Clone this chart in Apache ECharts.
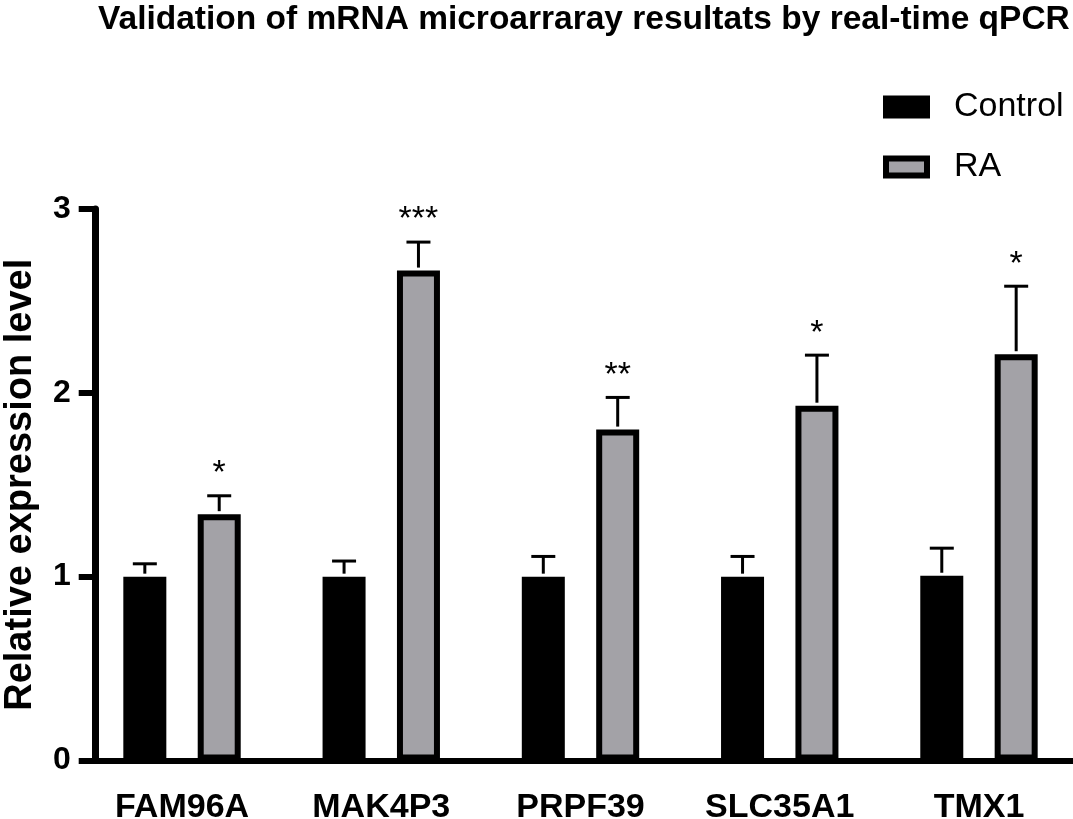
<!DOCTYPE html>
<html>
<head>
<meta charset="utf-8">
<script src="https://cdn.jsdelivr.net/npm/echarts@6/dist/echarts.min.js"></script>
<style>
  html, body { margin: 0; padding: 0; background: #fff; }
  #chart { width: 1073px; height: 819px; }
</style>
</head>
<body>
<div id="chart"></div>
<script>
// data
const categories = ['FAM96A', 'MAK4P3', 'PRPF39', 'SLC35A1', 'TMX1'];
const controlMean = [1.0, 1.0, 1.0, 1.0, 1.005];
const controlSem = [0.07, 0.085, 0.11, 0.11, 0.15];
const raMean = [1.34, 2.665, 1.80, 1.93, 2.21];
const raSem = [0.10, 0.155, 0.175, 0.275, 0.37];
const stars = ['*', '***', '**', '*', '*'];
const yTicks = [0, 1, 2, 3];

const FONT = '"Liberation Sans", Arial, sans-serif';
const GREY = '#a3a2a7';
const BAR_W = 43;
const BAR_GAP = 0.73;
// distance of each bar centre from the category centre
const half = BAR_W * (1 + BAR_GAP) / 2;

const chart = echarts.init(document.getElementById('chart'));

// error bars (upper only) + significance marks
function errorSeries(name, means, sems, side, marks) {
    return {
        name: name + '-err',
        type: 'custom',
        z: 5,
        silent: true,
        data: means.map((m, i) => [i, m, m + sems[i], marks ? marks[i] : '']),
        renderItem: (params, api) => {
            const base = api.coord([api.value(0), api.value(1)]);
            const top = api.coord([api.value(0), api.value(2)]);
            const x = base[0] + side * half;
            const capY = top[1];
            const children = [
                { type: 'line', shape: { x1: x, y1: base[1] - 3, x2: x, y2: capY },
                  style: { stroke: '#000', lineWidth: 3 } },
                { type: 'line', shape: { x1: x - 12, y1: capY, x2: x + 12, y2: capY },
                  style: { stroke: '#000', lineWidth: 3 } }
            ];
            const txt = api.value(3);
            if (txt) {
                children.push({
                    type: 'text',
                    style: {
                        text: txt, x: x, y: capY - 22,
                        align: 'center', verticalAlign: 'middle',
                        fontSize: 34, fontFamily: FONT, fill: '#000'
                    }
                });
            }
            return { type: 'group', children: children };
        }
    };
}

const option = {
    animation: false,
    backgroundColor: '#fff',
    title: {
        text: 'Validation of mRNA microarraray resultats by real-time qPCR',
        left: 93,
        top: -2,
        textStyle: { fontSize: 33.5, fontWeight: 'bold', fontFamily: FONT, color: '#000' }
    },
    legend: {
        orient: 'vertical',
        left: 883,
        top: 90,
        padding: 0,
        itemWidth: 41,
        itemHeight: 17,
        itemGap: 26,
        icon: 'rect',
        itemStyle: { borderWidth: 6, borderColor: '#000' },
        data: ['Control', 'RA'],
        textStyle: { fontSize: 34, fontFamily: FONT, color: '#000', padding: [0, 0, 0, 22] }
    },
    grid: { left: 82.4, right: -5.6, top: 209, bottom: 58.5, containLabel: false, outerBoundsMode: 'none' },
    xAxis: {
        type: 'category',
        data: categories,
        axisLine: { lineStyle: { color: '#000', width: 6 } },
        axisTick: { alignWithLabel: true, length: 16, lineStyle: { color: '#000', width: 6 } },
        axisLabel: { margin: 30, fontSize: 34, fontWeight: 'bold', fontFamily: FONT, color: '#000' }
    },
    yAxis: {
        type: 'value',
        min: yTicks[0],
        max: yTicks[yTicks.length - 1],
        interval: 1,
        offset: -13.3,
        name: 'Relative expression level',
        nameLocation: 'middle',
        nameGap: 56,
        nameTextStyle: { fontSize: 38, fontWeight: 'bold', fontFamily: FONT, color: '#000' },
        splitLine: { show: false },
        axisLine: { show: true, lineStyle: { color: '#000', width: 7 } },
        axisTick: { show: true, length: 17, lineStyle: { color: '#000', width: 6 } },
        axisLabel: { margin: 25, fontSize: 32, fontWeight: 'bold', fontFamily: FONT, color: '#000' }
    },
    series: [
        {
            name: 'Control',
            type: 'bar',
            data: controlMean,
            barWidth: BAR_W,
            barGap: (BAR_GAP * 100) + '%',
            itemStyle: { color: '#000', borderColor: '#000', borderWidth: 6 }
        },
        {
            name: 'RA',
            type: 'bar',
            data: raMean,
            barWidth: BAR_W,
            itemStyle: { color: GREY, borderColor: '#000', borderWidth: 6 }
        },
        errorSeries('Control', controlMean, controlSem, -1, null),
        errorSeries('RA', raMean, raSem, 1, stars)
    ]
};

chart.setOption(option);
</script>
</body>
</html>
